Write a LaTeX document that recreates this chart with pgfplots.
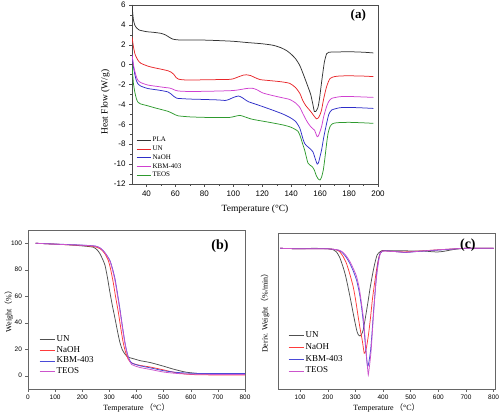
\documentclass[border=0pt]{standalone}
\usepackage{pgfplots}
\pgfplotsset{compat=1.18}
\usepackage{fontspec}
\setmainfont{Liberation Serif}
\setsansfont{Liberation Sans}
\newfontfamily\cjk{Noto Sans CJK SC}
\definecolor{cBlk}{HTML}{333333}
\definecolor{cRed}{HTML}{E8262A}
\definecolor{cBlu}{HTML}{2E2EC8}
\definecolor{cMag}{HTML}{D040D0}
\definecolor{cGrn}{HTML}{2E9A2E}
\definecolor{dBlk}{HTML}{505050}
\definecolor{dRed}{HTML}{FF3B3B}
\definecolor{dBlu}{HTML}{4A4AD8}
\definecolor{dMag}{HTML}{CC55CC}
\pgfplotsset{
  myleg/.style={legend cell align=left, legend style={draw=none, fill=none, inner sep=0pt, column sep=1pt, row sep=0pt},
    legend image code/.code={\draw[##1, line width=0.9pt] (0pt,0pt) -- (#1,0pt);}},
}
\begin{document}
\begin{tikzpicture}
\useasboundingbox (0pt,0pt) rectangle (500pt,415pt);
% ---------------- (a)
\begin{axis}[
  at={(132pt,231pt)}, anchor=south west, scale only axis,
  width=246pt, height=179pt,
  xmin=30, xmax=200, ymin=-12, ymax=6,
  xtick={40,60,...,200}, ytick={-12,-10,...,6},
  minor x tick num=1, minor y tick num=1,
  tick align=outside, tick pos=left,
  major tick length=3pt, minor tick length=1.8pt,
  axis line style={draw=black!70}, every tick/.style={black!70},
  /pgf/number format/assume math mode=true,
  ticklabel style={font=\sffamily\fontsize{8}{8}\selectfont},
  xlabel={Temperature (°C)}, ylabel={Heat Flow (W/g)},
  label style={font=\fontsize{9.5}{10}\selectfont},
  xlabel style={at={(axis description cs:0.5,-0.14)}, anchor=center},
  ylabel style={at={(axis description cs:-0.108,0.458)}, anchor=center},
  myleg=14pt,
  legend style={at={(axis description cs:0.016,0.27)}, anchor=north west,
    font=\fontsize{7}{7}\selectfont,
    nodes={inner sep=0.6pt, text height=5.5pt, text depth=2.05pt}},
  every axis plot/.append style={line width=0.75pt},
]
\addplot[cBlk, smooth, tension=0.4] coordinates {(30,6.0) (30.5,5.2) (31,4.5) (32,3.95) (33.5,3.65) (35,3.48) (40,3.32) (45,3.25) (50,3.15) (53,3.0) (55.5,2.78) (58,2.58) (61,2.5) (65,2.48) (80,2.47) (90,2.42) (100,2.35) (110,2.22) (120,2.1) (127.5,1.95) (133,1.7) (137,1.4) (140,1.05) (143,0.6) (146,-0.1) (149,-1.2) (151.8,-2.3) (153.5,-3.0) (155,-4.0) (156,-4.7) (157,-4.7) (158.5,-4.3) (159.5,-3.5) (160.8,-2.0) (161.8,-0.9) (163,0.3) (164.5,1.1) (166,1.25) (170,1.27) (180,1.3) (190,1.25) (196.8,1.18)};
\addlegendentry{PLA}
\addplot[cRed, smooth, tension=0.4] coordinates {(30,2.8) (31,1.8) (32,1.1) (33,0.75) (34,0.47) (36,0.15) (41,-0.15) (45,-0.3) (50,-0.45) (55,-0.62) (57,-0.75) (59,-1.0) (60.5,-1.3) (62,-1.45) (65,-1.52) (70,-1.55) (80,-1.52) (90,-1.5) (97,-1.48) (100,-1.42) (104,-1.2) (107,-1.05) (109,-1.02) (112,-1.1) (115,-1.3) (118.5,-1.5) (125,-1.6) (133,-1.72) (139,-1.88) (143,-2.3) (146,-2.9) (148,-3.6) (150,-4.1) (152,-4.45) (154,-4.8) (156,-5.2) (157.6,-5.45) (159,-5.3) (160,-5.0) (161,-4.56) (162.5,-3.4) (164.5,-2.2) (166.8,-1.4) (170,-1.2) (173.7,-1.14) (180,-1.12) (190,-1.15) (196.8,-1.2)};
\addlegendentry{UN}
\addplot[cBlu, smooth, tension=0.4] coordinates {(30,1.0) (31,-0.2) (32,-1.0) (33,-1.6) (34,-1.9) (36,-2.15) (41,-2.4) (48,-2.55) (52,-2.65) (55,-2.75) (57,-2.95) (59,-3.2) (61,-3.38) (65,-3.42) (70,-3.46) (80,-3.5) (90,-3.55) (94.3,-3.6) (97,-3.5) (100,-3.3) (103.5,-3.15) (106,-3.3) (108,-3.5) (110.4,-3.72) (115,-3.95) (120,-4.2) (127.7,-4.6) (134,-4.95) (139,-5.3) (143,-5.7) (146,-6.4) (148,-7.4) (149.3,-7.92) (151,-8.2) (152.8,-8.42) (155,-8.76) (156.5,-9.4) (158,-10.0) (159,-9.8) (160,-9.2) (161,-8.59) (162.5,-7.3) (164.5,-5.9) (166,-5.0) (168,-4.56) (173.7,-4.33) (180,-4.3) (190,-4.35) (196.8,-4.4)};
\addlegendentry{NaOH}
\addplot[cMag, smooth, tension=0.4] coordinates {(30,1.0) (31,0.0) (32,-0.7) (33,-1.2) (34,-1.55) (36,-1.8) (41,-2.05) (48,-2.2) (53,-2.3) (56,-2.35) (58,-2.45) (60,-2.58) (62,-2.65) (70,-2.7) (80,-2.68) (90,-2.65) (100,-2.6) (105,-2.5) (109,-2.4) (112.7,-2.36) (116,-2.5) (120.5,-2.85) (127,-3.1) (133,-3.3) (139,-3.5) (143,-3.85) (146,-4.3) (148,-4.9) (150.4,-5.57) (152,-5.95) (153.9,-6.3) (156.2,-6.6) (157,-6.9) (158,-7.25) (159,-7.1) (161,-6.24) (162.5,-5.2) (164.5,-4.2) (166,-3.7) (168,-3.39) (173.7,-3.22) (180,-3.2) (190,-3.25) (196.8,-3.29)};
\addlegendentry{KBM-403}
\addplot[cGrn, smooth, tension=0.4] coordinates {(30,0.0) (30.5,-1.0) (31,-1.9) (32,-2.8) (33,-3.4) (34,-3.75) (36,-3.95) (40,-4.1) (46,-4.35) (50,-4.5) (55,-4.7) (58,-4.9) (60,-5.05) (62,-5.15) (70,-5.25) (80,-5.3) (90,-5.32) (97.7,-5.3) (101,-5.2) (104.6,-5.1) (108,-5.25) (112,-5.45) (116,-5.57) (125,-5.8) (134.6,-6.07) (140,-6.3) (144.7,-6.7) (146.5,-7.3) (148,-8.0) (149.3,-8.59) (150.5,-9.3) (151.6,-9.9) (153,-10.1) (154.6,-10.27) (156,-10.6) (157.2,-11.1) (158.5,-11.45) (159.9,-11.6) (161,-11.3) (162.2,-10.6) (163.3,-9.4) (164.5,-7.92) (165.5,-6.9) (166.8,-6.24) (168.5,-5.95) (171.4,-5.84) (180,-5.8) (190,-5.85) (196.8,-5.9)};
\addlegendentry{TEOS}
\node[font=\bfseries\fontsize{13}{13}\selectfont] at (axis description cs:0.92,0.94) {(a)};
\end{axis}
% ---------------- (b)
\begin{axis}[
  at={(28pt,26pt)}, anchor=south west, scale only axis,
  width=217pt, height=159pt,
  xmin=0, xmax=800, ymin=-10, ymax=110,
  xtick={0,100,...,800}, ytick={0,20,...,100},
  tick align=outside, tick pos=left,
  major tick length=2.5pt,
  axis line style={draw=black!60, line width=0.8pt}, every tick/.style={black!60},
  /pgf/number format/assume math mode=true,
  ticklabel style={font=\sffamily\fontsize{6.5}{6.5}\selectfont},
  xlabel={Temperature\,{\cjk （}°C{\cjk ）}}, ylabel={Weight{\cjk （}\%{\cjk ）}},
  label style={font=\fontsize{8}{9}\selectfont},
  xlabel style={yshift=3pt},
  ylabel style={at={(axis description cs:-0.088,0.5)}, anchor=center},
  myleg=15pt,
  legend style={at={(axis description cs:0.05,0.3465)}, anchor=north west,
    font=\fontsize{9}{9}\selectfont,
    nodes={inner sep=0.6pt, text height=6.6pt, text depth=3pt}},
  every axis plot/.append style={line width=0.75pt},
]
\addplot[dBlk, smooth, tension=0.4] coordinates {(28,100) (100,99.3) (150,98.8) (200,98.0) (220,97.6) (241,97.0) (255,95) (265,92.2) (275,88) (284,83.3) (293,74) (302,63) (311,53) (321,43) (330,33.5) (339,25) (348,19.5) (357.5,16.4) (365,14.6) (372,13.8) (390,12.8) (413,11.4) (450,10.0) (500,7.2) (536,5.0) (580,2.8) (622,1.8) (660,1.4) (700,1.3) (781,1.3) (800,1.3)};
\addlegendentry{UN}
\addplot[dRed, smooth, tension=0.4] coordinates {(28,100) (100,99.3) (200,98.3) (240,97.6) (265,96) (282,92.5) (296,87) (305,80) (314,70.7) (323,59.5) (333,48) (342,36) (351,25) (358,19) (364,15) (370,12.3) (376,10.6) (390,9.0) (413,7.8) (450,6.6) (500,4.4) (536,2.7) (580,1.3) (620,0.8) (700,0.6) (800,0.6)};
\addlegendentry{NaOH}
\addplot[dBlu, smooth, tension=0.4] coordinates {(28,100) (100,99.4) (200,98.6) (250,97.8) (269,96) (285,92.5) (302,87) (312,80.5) (321,73) (330,62) (339,50.5) (348,37.5) (357.5,25) (364,18.5) (370,14) (376,11.3) (382,9.6) (400,8.3) (413,7.5) (450,6.0) (500,3.8) (550,2.5) (600,1.9) (650,1.7) (700,1.7) (800,1.7)};
\addlegendentry{KBM-403}
\addplot[dMag, smooth, tension=0.4] coordinates {(28,100) (100,99.3) (200,98.5) (250,97.8) (269,96) (285,92.5) (302,86.5) (312,79.5) (321,71.5) (330,60.5) (339,49) (348,36.5) (357.5,24.5) (364,18) (370,13.5) (376,10.5) (382,8.5) (400,7.0) (413,6.2) (450,4.8) (500,2.8) (550,1.7) (600,1.2) (700,1.0) (800,1.0)};
\addlegendentry{TEOS}
\node[font=\bfseries\fontsize{14}{14}\selectfont] at (axis description cs:0.885,0.9) {(b)};
\end{axis}
% ---------------- (c)
\begin{axis}[
  at={(278pt,26pt)}, anchor=south west, scale only axis,
  width=217pt, height=156pt,
  xmin=20, xmax=805, ymin=-140.7, ymax=15.3,
  xtick={100,200,...,800}, ytick=\empty,
  tick align=outside, tick pos=left,
  major tick length=2.5pt,
  axis line style={draw=black!60, line width=0.8pt}, every tick/.style={black!60},
  /pgf/number format/assume math mode=true,
  ticklabel style={font=\sffamily\fontsize{6.5}{6.5}\selectfont},
  xlabel={Temperature\,{\cjk （}°C{\cjk ）}}, ylabel={Deriv. Weight\,{\cjk （}\%/min{\cjk ）}},
  label style={font=\fontsize{8}{9}\selectfont},
  xlabel style={yshift=3pt},
  ylabel style={at={(axis description cs:-0.06,0.5)}, anchor=center},
  myleg=15pt,
  legend style={at={(axis description cs:0.046,0.379)}, anchor=north west,
    font=\fontsize{9}{9}\selectfont,
    nodes={inner sep=0.6pt, text height=7pt, text depth=3.5pt}},
  every axis plot/.append style={line width=0.75pt},
]
\addplot[dBlk, smooth, tension=0.4] coordinates {(28,0) (100,-0.5) (150,0) (200,-0.5) (220,-1.5) (231,-3.5) (243,-9) (255,-18.4) (264,-27) (273,-38.4) (283,-52) (292,-65) (300,-76) (306,-83.4) (311,-86.5) (316,-87.7) (320,-87) (324,-85) (328,-81.7) (334,-73) (340,-63) (346.6,-51.7) (353,-40) (360,-29) (365,-21.7) (372,-13) (378,-7) (383,-5) (389,-3.5) (395,-2.4) (402,-2.2) (420,-2.5) (450,-2.5) (500,-2.6) (550,-2.8) (580,-3.5) (600,-3.6) (620,-3) (660,-1) (700,0) (800,0)};
\addlegendentry{UN}
\addplot[dRed, smooth, tension=0.4] coordinates {(28,0) (100,-0.5) (200,-0.5) (230,-1.5) (243,-3.4) (255,-8) (267.5,-15) (280,-26) (292,-38.4) (301,-52) (310,-68.4) (318,-82) (324.6,-91.7) (329,-100) (332,-105) (336,-103.5) (340.6,-98.4) (348,-85) (355,-68.4) (362,-50) (371,-31.7) (379,-17) (387,-6.7) (395,-3) (405,-2.5) (450,-3.4) (480,-3.6) (520,-3) (600,-1.5) (700,0) (800,0)};
\addlegendentry{NaOH}
\addplot[dBlu, smooth, tension=0.4] coordinates {(28,0) (100,-0.5) (200,-0.5) (240,-2) (255,-5) (268,-9.5) (279.5,-15) (292,-22.5) (304,-31.7) (314,-44) (322,-58.4) (329,-75) (334.5,-91.7) (339,-106) (344,-118.4) (348,-115) (351,-110) (355,-101.7) (360,-85) (365,-65) (371,-45) (377,-25) (383,-12) (389.5,-5) (397,-3) (410,-2.5) (450,-3.4) (480,-4.2) (520,-3.3) (600,-1.8) (700,0) (800,0)};
\addlegendentry{KBM-403}
\addplot[dMag, smooth, tension=0.4] coordinates {(28,0) (100,-0.5) (200,-0.5) (240,-1.8) (255,-4) (268,-8) (279.5,-13) (292,-20) (304,-28) (314,-40) (322,-55) (329,-70) (334.5,-88) (340,-107) (344,-120) (346.6,-126.7) (349,-122) (353,-113) (357,-101.7) (362,-81) (367.5,-58.4) (373,-38) (379.5,-21.7) (386,-10) (392,-4) (400,-2.7) (450,-3.4) (480,-4) (520,-3.2) (600,-1.5) (700,0) (800,0)};
\addlegendentry{TEOS}
\node[font=\bfseries\fontsize{14}{14}\selectfont] at (axis description cs:0.875,0.92) {(c)};
\end{axis}
\end{tikzpicture}
\end{document}
